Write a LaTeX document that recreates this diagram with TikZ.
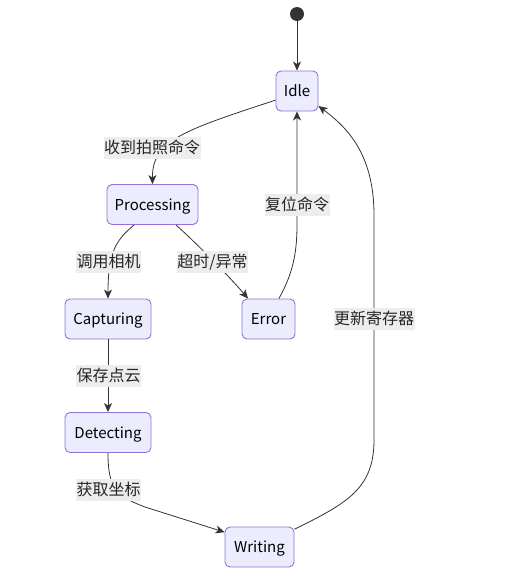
\documentclass[tikz,border=0pt]{standalone}
\usepackage{fontspec}
\setmainfont{Noto Sans CJK SC}
\usetikzlibrary{arrows.meta}
\definecolor{statefill}{HTML}{ECECFF}
\definecolor{stateline}{HTML}{9370DB}
\definecolor{edgecol}{HTML}{333333}
\definecolor{labelbg}{HTML}{EDEDED}
\begin{document}
\begin{tikzpicture}[x=1pt,y=-1pt,
  state/.style={draw=stateline, fill=statefill, line width=0.9pt, rounded corners=5pt,
    minimum height=40pt, inner sep=0pt, text height=12.5pt, text depth=1.5pt,
    font=\fontsize{15}{18}\selectfont, text=black},
  elabel/.style={fill=labelbg, inner xsep=0.5pt, inner ysep=0pt, minimum height=22pt,
    text height=13pt, text depth=1.8pt,
    font=\fontsize{16}{19}\selectfont, text=black!85},
  trans/.style={draw=edgecol, line width=0.8pt,
    -{Stealth[length=9pt,width=8pt,inset=2.5pt]}},
  startdot/.style={circle, fill=edgecol, minimum size=14pt, inner sep=0pt}]
  \useasboundingbox (0,0) rectangle (524,584);

  % states
  \node[startdot] (start) at (297,14) {};
  \node[state, minimum width=42pt] (idle) at (297,91) {Idle};
  \node[state, minimum width=91pt] (proc) at (152.5,204.5) {Processing};
  \node[state, minimum width=86pt] (cap) at (108,319) {Capturing};
  \node[state, minimum width=53pt] (err) at (268.5,319) {Error};
  \node[state, minimum width=86pt] (det) at (108,432.5) {Detecting};
  \node[state, minimum width=69pt] (wri) at (259.5,547) {Writing};

  % transitions
  \draw[trans] (start) -- (idle.north);
  \draw[trans] (idle.203) .. controls (185,130) and (152,140) .. (proc.north);
  \draw[trans] (proc.-132) .. controls (116,240) and (108,252) .. (cap.north);
  \draw[trans] (proc.-41) .. controls (195,242) and (228,275) .. (err.135);
  \draw[trans] (err.63) .. controls (292,275) and (297,255) .. (297,225) -- (idle.south);
  \draw[trans] (cap.south) -- (det.north);
  \draw[trans] (det.south) .. controls (108,488) and (116,496) .. (145,507) -- (wri.157);
  \draw[trans] (wri.27) .. controls (348,503) and (374,488) .. (374,440)
    -- (374,215) .. controls (374,155) and (348,128) .. (idle.-35);

  % transition labels
  \node[elabel] (l1) at (152,147.5) {收到拍照命令};
  \node[elabel] (l2) at (297,204.5) {复位命令};
  \node[elabel] (l3) at (108.5,262) {调用相机};
  \node[elabel] (l4) at (212.5,262) {超时/异常};
  \node[elabel] (l5) at (374,319) {更新寄存器};
  \node[elabel] (l6) at (108.5,376) {保存点云};
  \node[elabel] (l7) at (108.5,490) {获取坐标};
\end{tikzpicture}
\end{document}
